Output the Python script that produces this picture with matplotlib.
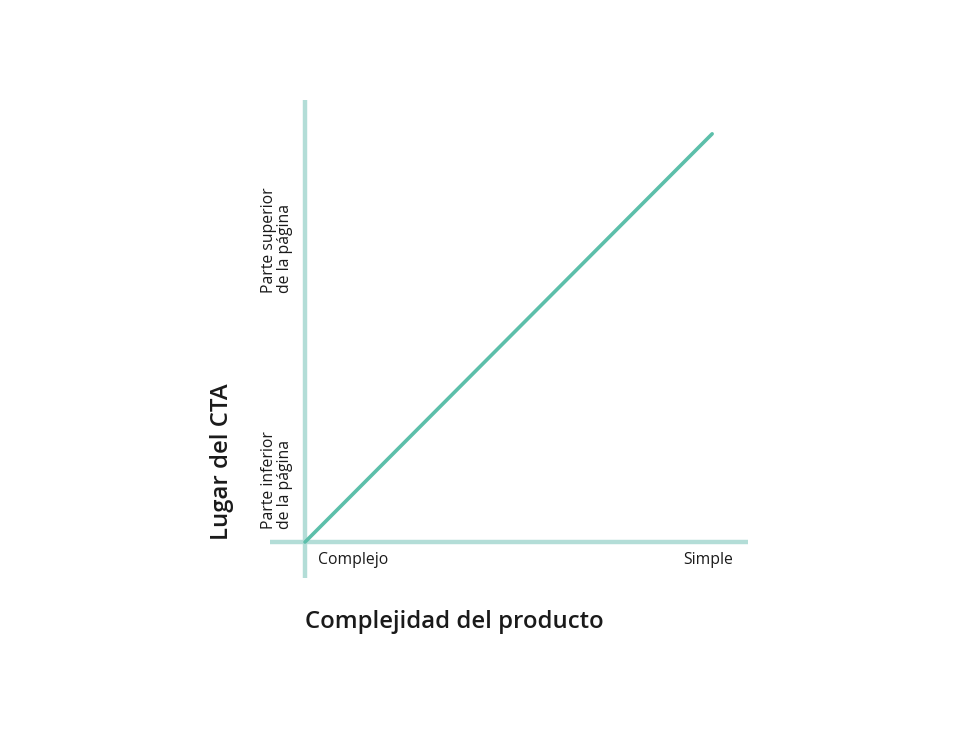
import matplotlib
matplotlib.use("Agg")
import matplotlib.pyplot as plt

# Data
x_vals = [0, 1]
y_vals = [0, 1]
x_tick_labels = ["Complejo", "Simple"]
y_tick_labels = ["Parte inferior\nde la página", "Parte superior\nde la página"]
x_title = "Complejidad del producto"
y_title = "Lugar del CTA"

plt.rcParams['font.family'] = ['Open Sans', 'DejaVu Sans']

fig = plt.figure(figsize=(9.6, 7.36), dpi=100)
ax = fig.add_axes([0.28125, 0.2147, 0.4979, 0.6495])
ax.set_xlim(-0.086, 1.088)
ax.set_ylim(-0.088, 1.083)
ax.axis('off')

axis_color = '#b3ddd7'
line_color = '#5cbfaa'
ax.axhline(0, color=axis_color, lw=3.2, zorder=1)
ax.axvline(0, color=axis_color, lw=3.2, zorder=1)
ax.plot(x_vals, y_vals, color=line_color, lw=2.6, solid_capstyle='round', zorder=2)

txt = '#1a1a1a'
small = 11.3
ax.text(0.032, -0.044, x_tick_labels[0], ha='left', va='center', fontsize=small, color=txt, clip_on=False)
ax.text(1.052, -0.044, x_tick_labels[1], ha='right', va='center', fontsize=small, color=txt, clip_on=False)
ax.text(-0.069, 0.152, y_tick_labels[0], ha='center', va='center', rotation=90, fontsize=small,
        color=txt, linespacing=0.95, multialignment='left', clip_on=False)
ax.text(-0.069, 0.74, y_tick_labels[1], ha='center', va='center', rotation=90, fontsize=small,
        color=txt, linespacing=0.95, multialignment='left', clip_on=False)
ax.text(0.0, -0.196, x_title, ha='left', va='center', fontsize=17.2, fontweight='semibold', color=txt, clip_on=False)
ax.text(-0.204, 0.005, y_title, ha='center', va='bottom', rotation=90, fontsize=17.2,
        fontweight='semibold', color=txt, clip_on=False)

fig.savefig('out.png', dpi=100, facecolor='white')
